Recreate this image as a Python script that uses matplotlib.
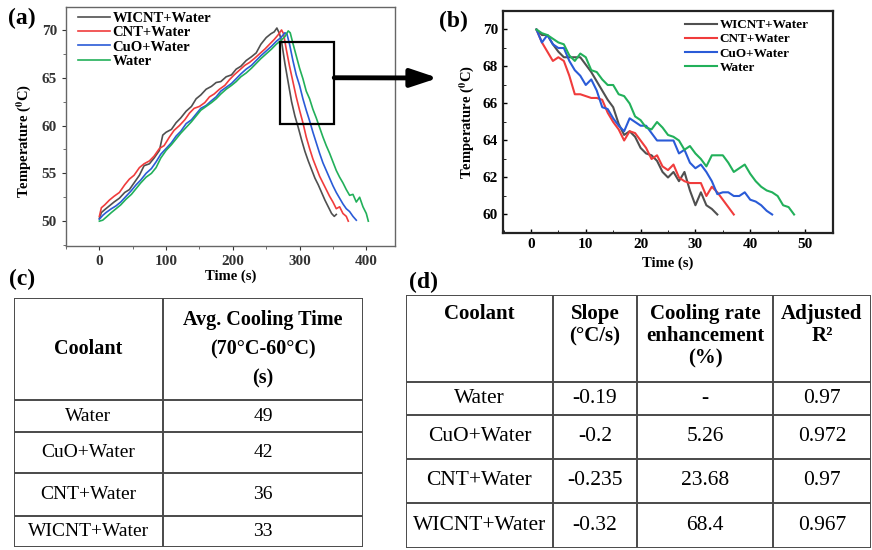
import numpy as np
import matplotlib.pyplot as plt
from matplotlib.ticker import MultipleLocator

plt.rcParams['font.family'] = ['Liberation Serif', 'DejaVu Serif']
plt.rcParams['mathtext.fontset'] = 'stix'

labels = ['WICNT+Water', 'CNT+Water', 'CuO+Water', 'Water']
colors = ['#505050', '#f03c3c', '#2a5bd7', '#22b05a']

# (a) full heating / cooling cycle
t_wicnt = [0, 3, 8, 15, 22, 30, 38, 45, 52, 60, 67, 75, 82, 90, 95, 100, 108, 115, 122, 130,
           138, 145, 152, 160, 168, 175, 182, 190, 198, 205, 212, 220, 228, 235, 242, 250,
           257, 262, 266, 270, 273, 278, 283, 288, 293, 298, 303, 308, 313, 318, 323, 328,
           333, 338, 343, 348, 352, 355]
T_wicnt = [50.3, 50.9, 51.2, 51.6, 52.0, 52.4, 53.0, 53.3, 54.0, 54.8, 55.8, 56.0, 56.6, 57.4,
           59.0, 59.3, 59.6, 60.3, 60.8, 61.5, 62.0, 62.8, 63.2, 63.8, 64.1, 64.5, 64.6, 65.1,
           65.3, 65.9, 66.2, 66.8, 67.2, 67.6, 68.5, 69.2, 69.6, 69.8, 70.2, 69.6, 68.8, 66.5,
           64.5, 62.5, 61.0, 59.8, 58.5, 57.3, 56.3, 55.4, 54.5, 53.8, 53.0, 52.2, 51.5, 50.8,
           50.5, 50.7]

t_cnt = [0, 3, 8, 15, 22, 30, 38, 45, 52, 60, 67, 75, 82, 90, 97, 105, 112, 120, 128, 135,
         142, 150, 158, 165, 172, 180, 188, 195, 202, 210, 218, 225, 232, 240, 248, 255, 262,
         268, 273, 276, 280, 285, 290, 295, 300, 305, 310, 315, 320, 325, 330, 335, 340, 345,
         350, 355, 360, 365, 370, 373]
T_cnt = [50.5, 51.4, 51.7, 52.2, 52.6, 53.0, 53.8, 54.4, 54.8, 55.6, 56.0, 56.3, 56.8, 57.6,
         57.9, 58.8, 59.5, 60.0, 60.6, 61.3, 61.8, 62.0, 62.4, 63.0, 63.3, 63.8, 64.2, 64.8,
         65.3, 65.8, 66.3, 66.6, 67.0, 67.5, 68.0, 68.5, 69.0, 69.5, 70.0, 69.6, 68.0, 66.2,
         64.6, 63.0, 61.6, 60.3, 58.8, 57.6, 56.5, 55.6, 54.7, 54.0, 53.3, 52.6, 52.0, 51.3,
         51.5, 50.8, 50.5, 50.0]

t_cuo = [0, 5, 10, 18, 25, 32, 40, 48, 55, 62, 70, 78, 85, 92, 100, 108, 115, 122, 130, 138,
         145, 152, 160, 168, 175, 182, 190, 198, 205, 212, 220, 228, 235, 242, 250, 258, 265,
         272, 278, 281, 285, 290, 295, 300, 305, 310, 315, 320, 325, 330, 335, 340, 345, 350,
         355, 360, 365, 370, 375, 380, 385]
T_cuo = [50.2, 50.6, 50.9, 51.3, 51.6, 52.0, 52.6, 53.2, 53.8, 54.3, 55.0, 55.5, 56.2, 57.0,
         57.6, 58.2, 58.9, 59.4, 60.2, 60.6, 61.2, 61.8, 62.1, 62.6, 63.0, 63.6, 64.0, 64.4,
         64.9, 65.4, 65.9, 66.3, 66.8, 67.3, 67.8, 68.3, 68.8, 69.2, 69.7, 69.6, 68.5, 66.8,
         65.3, 64.2, 62.8, 61.6, 60.5, 59.3, 58.2, 57.1, 56.1, 55.3, 54.5, 53.7, 53.0, 52.4,
         51.8, 51.3, 51.0, 50.5, 50.1]

t_water = [0, 5, 10, 18, 25, 32, 40, 48, 55, 62, 70, 78, 85, 92, 100, 108, 115, 122, 130, 138,
           145, 152, 160, 168, 175, 182, 190, 198, 205, 212, 220, 228, 235, 242, 250, 258, 265,
           272, 278, 283, 286, 290, 295, 300, 305, 310, 315, 320, 325, 330, 335, 340, 345, 350,
           355, 360, 365, 370, 375, 380, 385, 390, 395, 400, 403]
T_water = [50.0, 50.1, 50.4, 50.9, 51.3, 51.7, 52.3, 52.8, 53.4, 54.0, 54.6, 55.0, 55.6, 56.6,
           57.4, 58.0, 58.6, 59.2, 59.8, 60.4, 61.0, 61.6, 62.0, 62.4, 62.8, 63.3, 63.8, 64.2,
           64.6, 65.1, 65.5, 66.0, 66.5, 67.0, 67.5, 68.0, 68.5, 68.9, 69.3, 69.9, 69.7, 68.6,
           67.3, 66.0, 64.9, 63.6, 62.8, 61.7, 60.8, 59.8, 58.8, 57.9, 57.1, 56.2, 55.3, 54.6,
           54.0, 53.3, 52.7, 52.8, 52.0, 52.5, 51.5, 50.8, 50.0]

# (b) cooling from 70 to 60 C
tb_wicnt = list(range(1, 35))
Tb_wicnt = [70.0, 69.7, 69.7, 69.2, 68.8, 68.5, 68.5, 68.5, 68.5, 68.1, 67.7, 67.2, 66.7,
            66.2, 65.8, 64.9, 64.3, 64.5, 64.2, 63.6, 63.3, 63.2, 62.9, 62.3, 62.0, 62.3,
            61.8, 62.3, 61.3, 60.5, 61.2, 60.5, 60.3, 60.0]
tb_cnt = list(range(1, 38))
Tb_cnt = [70.0, 69.3, 68.8, 68.3, 68.5, 68.3, 67.5, 66.5, 66.5, 66.4, 66.3, 66.3, 66.2, 65.5,
          65.0, 64.6, 64.0, 64.5, 64.4, 64.0, 63.6, 63.0, 63.2, 62.6, 62.4, 62.7, 62.0, 61.8,
          61.7, 61.7, 61.7, 61.0, 61.5, 61.2, 60.8, 60.4, 60.0]
tb_cuo = list(range(1, 45))
Tb_cuo = [70.0, 69.3, 69.7, 69.2, 69.0, 69.0, 68.3, 67.8, 67.5, 67.0, 67.3, 66.7, 65.8, 65.7,
          65.2, 64.8, 64.5, 65.2, 65.0, 64.8, 64.8, 64.4, 64.0, 64.0, 64.0, 64.0, 63.3, 63.5,
          62.8, 62.5, 62.7, 62.3, 61.8, 61.1, 61.2, 61.2, 61.0, 61.0, 61.2, 60.8, 60.7, 60.5,
          60.2, 60.0]
tb_water = list(range(1, 49))
Tb_water = [70.0, 69.8, 69.7, 69.5, 69.3, 69.2, 68.6, 68.3, 68.7, 68.5, 67.8, 67.7, 67.3,
            67.0, 67.0, 66.5, 66.4, 66.0, 65.3, 65.1, 64.7, 64.6, 65.0, 64.7, 64.3, 64.2,
            64.0, 63.5, 63.7, 63.3, 63.0, 62.6, 63.2, 63.2, 63.2, 62.8, 62.3, 62.5, 62.7,
            62.2, 61.8, 61.5, 61.3, 61.2, 61.0, 60.5, 60.4, 60.0]

# (c) table
coolants_c = ['Water', 'CuO+Water', 'CNT+Water', 'WICNT+Water']
cool_time = ['49', '42', '36', '33']

# (d) table
coolants_d = ['Water', 'CuO+Water', 'CNT+Water', 'WICNT+Water']
slope = ['-0.19', '-0.2', '-0.235', '-0.32']
enhance = ['-', '5.26', '23.68', '68.4']
adj_r2 = ['0.97', '0.972', '0.97', '0.967']

W, H = 872, 550
fig = plt.figure(figsize=(W / 100, H / 100), dpi=100)


def px_axes(x0, y0, x1, y1):
    return fig.add_axes([x0 / W, 1 - y1 / H, (x1 - x0) / W, (y1 - y0) / H])


# ---------- (a)
ax_a = px_axes(66, 7, 395, 246)
series_a = [(t_wicnt, T_wicnt), (t_cnt, T_cnt), (t_cuo, T_cuo), (t_water, T_water)]
for (t, T), lab, c in zip(series_a, labels, colors):
    ax_a.plot(t, T, color=c, lw=1.2, label=lab)
ax_a.set_xlim(-50, 443)
ax_a.set_ylim(47.4, 72.4)
ax_a.xaxis.set_major_locator(MultipleLocator(100))
ax_a.xaxis.set_minor_locator(MultipleLocator(50))
ax_a.yaxis.set_major_locator(MultipleLocator(5))
ax_a.yaxis.set_minor_locator(MultipleLocator(2.5))
ax_a.tick_params(direction='out', labelsize=11, colors='#333333', length=3)
ax_a.tick_params(which='minor', direction='out', length=2, colors='#555555')
for lab in ax_a.get_xticklabels() + ax_a.get_yticklabels():
    lab.set_fontweight('bold')
for s in ax_a.spines.values():
    s.set_color('#666666')
    s.set_linewidth(1.0)
ax_a.set_xlabel('Time (s)', fontsize=10.5, fontweight='bold', labelpad=1)
ax_a.set_ylabel(r'Temperature ($\mathbf{^0}$C)', fontsize=10.5, fontweight='bold')
ax_a.yaxis.set_label_coords(-0.10, 0.44)
ax_a.legend(loc='upper left', frameon=False, prop={'weight': 'bold', 'size': 10.5},
            handlelength=2.2, handletextpad=0.15, labelspacing=0.08,
            borderaxespad=0.0, bbox_to_anchor=(0.02, 1.005))
ax_a.add_patch(plt.Rectangle((270, 60.2), 82, 8.5, fill=False, ec='black', lw=1.6, zorder=5))
ax_a.annotate('', xy=(438 / W, 1 - 78 / H), xycoords='figure fraction',
              xytext=(352, 65.0), textcoords='data',
              arrowprops=dict(arrowstyle='-|>,head_length=0.9,head_width=0.3',
                              lw=3.5, color='black', mutation_scale=18,
                              shrinkA=0, shrinkB=0), annotation_clip=False)

# ---------- (b)
ax_b = px_axes(503, 11, 833, 233)
series_b = [(tb_wicnt, Tb_wicnt), (tb_cnt, Tb_cnt), (tb_cuo, Tb_cuo), (tb_water, Tb_water)]
for (t, T), lab, c in zip(series_b, labels, colors):
    ax_b.plot(t, T, color=c, lw=1.5, label=lab)
ax_b.set_xlim(-5.1, 55.1)
ax_b.set_ylim(59.0, 71.0)
ax_b.xaxis.set_major_locator(MultipleLocator(10))
ax_b.xaxis.set_minor_locator(MultipleLocator(5))
ax_b.yaxis.set_major_locator(MultipleLocator(2))
ax_b.yaxis.set_minor_locator(MultipleLocator(1))
ax_b.tick_params(direction='in', labelsize=11, length=3, width=1.0)
ax_b.tick_params(which='minor', direction='in', length=2)
for lab in ax_b.get_xticklabels() + ax_b.get_yticklabels():
    lab.set_fontweight('bold')
for s in ax_b.spines.values():
    s.set_color('#222222')
    s.set_linewidth(1.6)
ax_b.set_xlabel('Time (s)', fontsize=10.5, fontweight='bold', labelpad=4)
ax_b.set_ylabel(r'Temperature ($\mathbf{^0}$C)', fontsize=10.5, fontweight='bold', labelpad=5)
ax_b.legend(loc='upper right', frameon=False, prop={'weight': 'bold', 'size': 9.5},
            handlelength=2.4, handletextpad=0.2, labelspacing=0.15,
            borderaxespad=0.2, bbox_to_anchor=(0.95, 1.0))

# ---------- panel letters
for txt, x, y in [('(a)', 22, 18), ('(b)', 453, 21), ('(c)', 22, 279), ('(d)', 423, 282)]:
    fig.text(x / W, 1 - y / H, txt, fontsize=17, fontweight='bold', ha='center', va='center')


def draw_table(ax, col_edges, row_edges, header, body, fs, hfs, header_top=None, ls=1.25):
    ax.set_xlim(0, 1)
    ax.set_ylim(1, 0)
    ax.axis('off')
    lc = '#4a4a4a'
    for x in col_edges:
        ax.plot([x, x], [0, 1], color=lc, lw=1.4, solid_capstyle='projecting')
    for y in row_edges:
        ax.plot([0, 1], [y, y], color=lc, lw=1.4, solid_capstyle='projecting')
    for j, h in enumerate(header):
        xc = (col_edges[j] + col_edges[j + 1]) / 2
        if header_top is None:
            ax.text(xc, (row_edges[0] + row_edges[1]) / 2, h, ha='center', va='center',
                    fontsize=hfs, fontweight='bold', linespacing=ls)
        else:
            ax.text(xc, header_top, h, ha='center', va='top',
                    fontsize=hfs, fontweight='bold', linespacing=ls)
    for i, row in enumerate(body):
        yc = (row_edges[i + 1] + row_edges[i + 2]) / 2
        for j, v in enumerate(row):
            xc = (col_edges[j] + col_edges[j + 1]) / 2
            ax.text(xc, yc, v, ha='center', va='center', fontsize=fs)


# ---------- (c)
ax_c = px_axes(14, 298, 363, 547)
draw_table(ax_c, [0, 0.427, 1], [0, 0.41, 0.538, 0.703, 0.876, 1],
           ['Coolant', 'Avg. Cooling Time\n(70\u00b0C-60\u00b0C)\n(s)'],
           list(zip(coolants_c, cool_time)), 14, 14.5, ls=1.6)

# ---------- (d)
ax_d = px_axes(406, 295, 871, 548)
draw_table(ax_d, [0, 0.316, 0.497, 0.789, 1], [0, 0.344, 0.474, 0.648, 0.822, 1],
           ['Coolant', 'Slope\n(\u00b0C/s)', 'Cooling rate\nenhancement\n(%)', 'Adjusted\nR\u00b2'],
           list(zip(coolants_d, slope, enhance, adj_r2)), 15.5, 15, header_top=0.035, ls=1.15)

fig.savefig('out.png', dpi=100)
